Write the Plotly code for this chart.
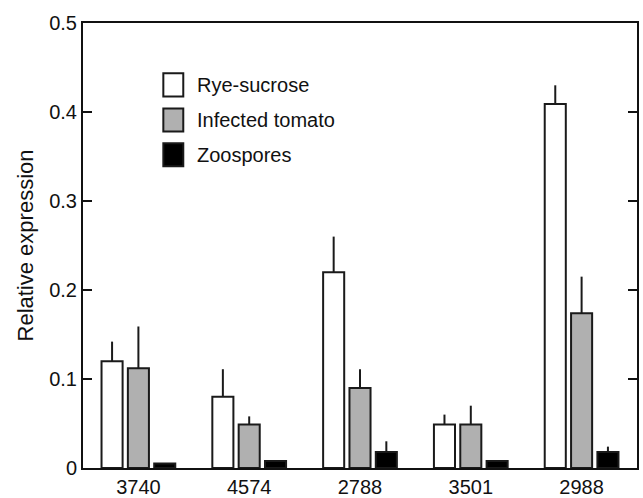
import plotly.graph_objects as go

genes = ["3740", "4574", "2788", "3501", "2988"]
series_names = ["Rye-sucrose", "Infected tomato", "Zoospores"]
rye = [0.120, 0.080, 0.220, 0.049, 0.409]
rye_err = [0.022, 0.031, 0.040, 0.011, 0.021]
tomato = [0.112, 0.049, 0.090, 0.049, 0.174]
tomato_err = [0.047, 0.009, 0.021, 0.021, 0.041]
zoo = [0.005, 0.008, 0.018, 0.008, 0.018]
zoo_err = [0.0, 0.0, 0.012, 0.0, 0.006]
colors = ["#ffffff", "#b0b0b0", "#000000"]
y_ticks = [0, 0.1, 0.2, 0.3, 0.4, 0.5]
y_tick_text = ["0", "0.1", "0.2", "0.3", "0.4", "0.5"]

FONT = "Liberation Sans, Arial, sans-serif"

fig = go.Figure()
for name, vals, errs, col in zip(series_names, [rye, tomato, zoo],
                                 [rye_err, tomato_err, zoo_err], colors):
    fig.add_trace(go.Bar(
        x=genes, y=vals, name=name,
        marker=dict(color=col, line=dict(color="#1a1a1a", width=2)),
        error_y=dict(type="data", array=errs, arrayminus=[0] * len(errs),
                     symmetric=False, width=0, thickness=2, color="#1a1a1a"),
        showlegend=False,
    ))

# Custom legend (swatches + labels)
sw_x0, sw_x1 = 0.145, 0.181
row_tops = [0.887, 0.808, 0.730]
sw_h = 0.052
for name, col, top in zip(series_names, colors, row_tops):
    fig.add_shape(type="rect", xref="paper", yref="paper",
                  x0=sw_x0, x1=sw_x1, y0=top - sw_h, y1=top,
                  fillcolor=col, line=dict(color="#1a1a1a", width=2))
    fig.add_annotation(xref="paper", yref="paper", x=0.202, y=top - sw_h / 2,
                       text=name, showarrow=False, xanchor="left",
                       yanchor="middle", font=dict(size=20, color="#111", family=FONT))

fig.update_layout(
    width=643, height=498,
    margin=dict(l=83, r=6, t=23, b=30, autoexpand=False),
    paper_bgcolor="white", plot_bgcolor="white",
    barmode="group", bargap=0.287, bargroupgap=0.2,
    font=dict(family=FONT, color="#111", size=20),
)
fig.update_xaxes(showline=True, linewidth=2, linecolor="#111", mirror=True,
                 ticks="", showgrid=False, tickfont=dict(size=20), automargin=False)
fig.update_yaxes(range=[0, 0.5], tickvals=y_ticks, ticktext=y_tick_text,
                 ticks="inside", ticklen=9, tickwidth=2, tickcolor="#111",
                 showline=True, linewidth=2, linecolor="#111", mirror="ticks",
                 showgrid=False, zeroline=False, tickfont=dict(size=20), automargin=False,
                 title=dict(text="Relative expression", font=dict(size=22), standoff=9))

fig.write_html("out.html", config={"displayModeBar": False},
               post_script="document.body.style.margin='0';document.body.style.overflow='hidden';")
